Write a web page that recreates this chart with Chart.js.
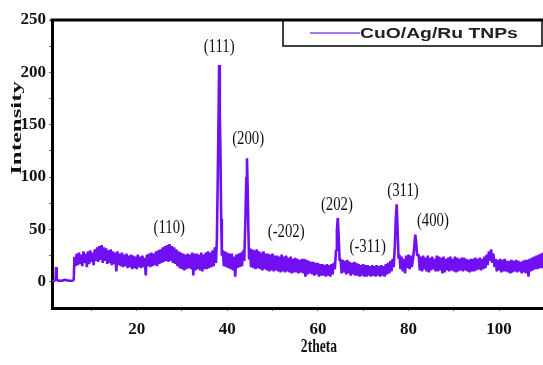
<!DOCTYPE html>
<html>
<head>
<meta charset="utf-8">
<script src="https://cdn.jsdelivr.net/npm/chart.js@4.4.1/dist/chart.umd.min.js"></script>
<style>
html, body { margin: 0; padding: 0; background: #fff; }
#wrap { width: 543px; height: 365px; position: relative; }
</style>
</head>
<body>
<div id="wrap"><canvas id="xrd"></canvas></div>
<script>
// XRD pattern (2theta in degrees, intensity in counts)
const twoTheta = [
    1.3, 1.8, 2.1, 2.2, 2.35, 2.8, 3.5, 4.2, 5.0, 5.8, 6.1,
    6.25, 6.5, 6.75, 7.0,
    7.25, 7.5, 7.75, 8.0, 8.25, 8.5, 8.75, 9.0,
    9.25, 9.5, 9.75, 10.0, 10.25, 10.5, 10.75, 11.0,
    11.25, 11.5, 11.75, 12.0, 12.25, 12.5, 12.75, 13.0,
    13.25, 13.5, 13.75, 14.0, 14.25, 14.5, 14.75, 15.0,
    15.25, 15.5, 15.75, 16.0, 16.25, 16.5, 16.75, 17.0,
    17.25, 17.5, 17.75, 18.0, 18.25, 18.5, 18.75, 19.0,
    19.25, 19.5, 19.75, 20.0, 20.25, 20.5, 20.75, 21.0,
    21.25, 21.5, 21.75, 22.0, 22.25, 22.5, 22.75, 23.0,
    23.25, 23.5, 23.75, 24.0, 24.25, 24.5, 24.75, 25.0,
    25.25, 25.5, 25.75, 26.0, 26.25, 26.5, 26.75, 27.0,
    27.25, 27.5, 27.75, 28.0, 28.25, 28.5, 28.75, 29.0,
    29.25, 29.5, 29.75, 30.0, 30.25, 30.5, 30.75, 31.0,
    31.25, 31.5, 31.75, 32.0, 32.25, 32.5, 32.75, 33.0,
    33.25, 33.5, 33.75, 34.0, 34.25, 34.5, 34.75, 35.0,
    35.25, 35.5, 35.75, 36.0, 36.25, 36.5, 36.75, 37.0,
    37.25, 37.5,
    37.7, 37.9, 38.05, 38.2, 38.35, 38.5, 38.65, 38.8,
    39.0, 39.25, 39.5, 39.75, 40.0, 40.25, 40.5, 40.75,
    41.0, 41.25, 41.5, 41.75, 42.0, 42.25, 42.5, 42.75,
    43.0, 43.25, 43.5, 43.75,
    44.0, 44.2, 44.35, 44.5, 44.65, 44.8,
    45.0, 45.25, 45.5, 45.75, 46.0, 46.25, 46.5, 46.75,
    47.0, 47.25, 47.5, 47.75, 48.0, 48.25, 48.5, 48.75,
    49.0, 49.25, 49.5, 49.75, 50.0, 50.25, 50.5, 50.75,
    51.0, 51.25, 51.5, 51.75, 52.0, 52.25, 52.5, 52.75,
    53.0, 53.25, 53.5, 53.75, 54.0, 54.25, 54.5, 54.75,
    55.0, 55.25, 55.5, 55.75, 56.0, 56.25, 56.5, 56.75,
    57.0, 57.25, 57.5, 57.75, 58.0, 58.25, 58.5, 58.75,
    59.0, 59.25, 59.5, 59.75, 60.0, 60.25, 60.5, 60.75,
    61.0, 61.25, 61.5, 61.75, 62.0, 62.25, 62.5, 62.75,
    63.0, 63.25, 63.5, 63.75,
    64.0, 64.2, 64.4, 64.6, 64.8,
    65.0, 65.25, 65.5, 65.75, 66.0, 66.25, 66.5, 66.75,
    67.0, 67.25, 67.5, 67.75, 68.0, 68.25, 68.5, 68.75,
    69.0, 69.25, 69.5, 69.75, 70.0, 70.25, 70.5, 70.75,
    71.0, 71.25, 71.5, 71.75, 72.0, 72.25, 72.5, 72.75,
    73.0, 73.25, 73.5, 73.75, 74.0, 74.25, 74.5, 74.75,
    75.0, 75.25, 75.5, 75.75, 76.0, 76.25, 76.5, 76.75,
    77.0, 77.2, 77.4, 77.6, 77.8,
    78.0, 78.25, 78.5, 78.75, 79.0, 79.25, 79.5, 79.75,
    80.0, 80.25, 80.5, 80.75,
    81.0, 81.25, 81.5, 81.7, 81.9,
    82.25, 82.5, 82.75, 83.0, 83.25, 83.5, 83.75, 84.0,
    84.25, 84.5, 84.75, 85.0, 85.25, 85.5, 85.75, 86.0,
    86.25, 86.5, 86.75, 87.0, 87.25, 87.5, 87.75, 88.0,
    88.25, 88.5, 88.75, 89.0, 89.25, 89.5, 89.75, 90.0,
    90.25, 90.5, 90.75, 91.0, 91.25, 91.5, 91.75, 92.0,
    92.25, 92.5, 92.75, 93.0, 93.25, 93.5, 93.75, 94.0,
    94.25, 94.5, 94.75, 95.0, 95.25, 95.5, 95.75, 96.0,
    96.25, 96.5, 96.75, 97.0, 97.25, 97.5, 97.75, 98.0,
    98.25, 98.5, 98.75, 99.0, 99.25, 99.5, 99.75, 100.0,
    100.25, 100.5, 100.75, 101.0, 101.25, 101.5, 101.75, 102.0,
    102.25, 102.5, 102.75, 103.0, 103.25, 103.5, 103.75, 104.0,
    104.25, 104.5, 104.75, 105.0, 105.25, 105.5, 105.75, 106.0,
    106.25, 106.5, 106.75, 107.0, 107.25, 107.5, 107.75, 108.0,
    108.25, 108.5, 108.75, 109.0, 109.25, 109.5, 109.75
];
const intensity = [
    1, 1, 2, 14, 2, 1, 1, 2, 1, 1, 2,
    24, 15, 27, 16,
    28, 17, 26, 15, 29, 18, 27, 14,
    29, 17, 30, 19, 28, 16, 31, 20,
    33, 19, 34, 21, 35, 18, 33, 20,
    32, 17, 30, 18, 31, 16, 29, 17,
    28, 10, 29, 16, 27, 15, 28, 14,
    26, 15, 27, 13, 25, 14, 26, 12,
    25, 13, 24, 12, 26, 14, 24, 13,
    25, 14, 23, 6, 26, 15, 27, 14,
    28, 15, 27, 16, 29, 15, 30, 17,
    31, 18, 33, 19, 34, 20, 35, 19,
    36, 20, 34, 18, 33, 17, 31, 15,
    29, 13, 28, 12, 27, 11, 26, 12,
    27, 13, 26, 12, 28, 6, 27, 11,
    27, 12, 26, 11, 28, 10, 26, 12,
    28, 12, 29, 13, 28, 14, 30, 15,
    33, 18,
    40, 100, 150, 207, 160, 120, 60, 25,
    30, 15, 29, 14, 28, 13, 27, 12,
    27, 11, 24, 5, 26, 13, 27, 14,
    28, 15, 30, 20,
    60, 100, 118, 90, 50, 22,
    32, 14, 31, 13, 30, 12, 31, 13,
    29, 12, 28, 11, 29, 12, 27, 11,
    27, 10, 26, 11, 27, 10, 25, 11,
    25, 10, 24, 9, 26, 10, 24, 9,
    25, 10, 23, 9, 24, 8, 22, 9,
    23, 9, 22, 8, 21, 9, 22, 8,
    22, 5, 21, 7, 20, 8, 19, 7,
    19, 6, 18, 7, 18, 5, 17, 6,
    17, 6, 16, 5, 17, 6, 16, 5,
    17, 7, 18, 12,
    30, 50, 61, 42, 20,
    22, 8, 21, 9, 20, 7, 21, 8,
    19, 6, 18, 7, 19, 6, 18, 6,
    17, 5, 16, 6, 17, 5, 16, 5,
    16, 6, 15, 5, 16, 6, 15, 5,
    16, 6, 15, 5, 16, 6, 15, 5,
    17, 7, 18, 8, 20, 10, 22, 14,
    35, 60, 74, 50, 22,
    26, 12, 24, 10, 22, 8, 25, 13,
    26, 12, 25, 14,
    22, 32, 45, 38, 25,
    26, 11, 24, 10, 25, 12, 23, 10,
    25, 9, 23, 11, 24, 12, 22, 10,
    25, 10, 24, 11, 23, 8, 24, 9,
    22, 11, 23, 10, 24, 11, 22, 10,
    24, 9, 23, 10, 22, 11, 23, 10,
    23, 11, 22, 10, 21, 9, 22, 10,
    22, 10, 23, 11, 22, 12, 23, 11,
    22, 12, 24, 13, 26, 16, 29, 20,
    31, 18, 27, 14, 22, 10, 21, 11,
    22, 9, 21, 10, 22, 10, 20, 9,
    20, 8, 21, 9, 20, 10, 21, 9,
    20, 10, 19, 8, 20, 9, 21, 8,
    21, 5, 22, 10, 23, 11, 24, 12,
    25, 12, 26, 13, 27, 13, 28
];
const seriesName = "CuO/Ag/Ru TNPs";
const xTickValues = [10, 20, 30, 40, 50, 60, 70, 80, 90, 100];
const yTickValues = [0, 25, 50, 75, 100, 125, 150, 175, 200, 225, 250];

// Miller index annotations: label, 2theta, intensity level of the label
const peakNames = ["(110)", "(111)", "(200)", "(-202)", "(202)", "(-311)", "(311)", "(400)"];
const peakTheta = [27.2, 38.2, 44.6, 53.0, 64.2, 71.0, 78.8, 85.4];
const peakLevel = [51, 224, 136, 47, 73, 33, 86, 58];

const lineColor = "#7010f2";

function condensedText(ctx, text, x, y, sx, sy) {
    ctx.save();
    ctx.translate(x, y);
    ctx.scale(sx, sy);
    ctx.fillText(text, 0, 0);
    ctx.restore();
}

const decorations = {
    id: "decorations",
    afterDatasetsDraw(chart) {
        const { ctx, chartArea: area, scales: { x, y } } = chart;
        ctx.save();

        // top frame line
        ctx.strokeStyle = "#000";
        ctx.lineWidth = 3;
        ctx.beginPath();
        ctx.moveTo(area.left - 1.5, area.top);
        ctx.lineTo(area.right, area.top);
        ctx.stroke();

        // peak labels
        ctx.fillStyle = "#111";
        ctx.font = '18px "Liberation Serif"';
        ctx.textAlign = "center";
        ctx.textBaseline = "middle";
        peakNames.forEach((name, i) => {
            condensedText(ctx, name,
                x.getPixelForValue(peakTheta[i]),
                y.getPixelForValue(peakLevel[i]), 0.82, 1);
        });

        // legend box
        const boxLeft = 283, boxTop = area.top, boxRight = 542, boxBottom = 46;
        ctx.lineWidth = 1.5;
        ctx.strokeRect(boxLeft, boxTop, boxRight - boxLeft, boxBottom - boxTop);
        ctx.strokeStyle = "#a878e8";
        ctx.lineWidth = 2;
        ctx.beginPath();
        ctx.moveTo(310, 33);
        ctx.lineTo(360, 33);
        ctx.stroke();
        ctx.fillStyle = "#222";
        ctx.font = 'bold 14px "Liberation Sans"';
        ctx.textAlign = "left";
        condensedText(ctx, seriesName, 360, 34, 1.38, 1);

        // axis titles
        ctx.fillStyle = "#111";
        ctx.font = 'bold 16px "Liberation Serif"';
        ctx.textAlign = "center";
        condensedText(ctx, "2theta", 319, 347, 0.85, 1.15);

        ctx.save();
        ctx.translate(17, 128);
        ctx.rotate(-Math.PI / 2);
        ctx.font = 'bold 15px "Liberation Serif"';
        condensedText(ctx, "Intensity", 0, 0, 1.65, 1);
        ctx.restore();

        ctx.restore();
    }
};

new Chart(document.getElementById("xrd").getContext("2d"), {
    type: "scatter",
    data: {
        datasets: [{
            label: seriesName,
            data: twoTheta.map((t, i) => ({ x: t, y: intensity[i] })),
            showLine: true,
            borderColor: lineColor,
            borderWidth: 2.6,
            borderJoinStyle: "bevel",
            pointRadius: 0,
            tension: 0
        }]
    },
    options: {
        responsive: true,
        maintainAspectRatio: false,
        animation: false,
        layout: { padding: { top: 20, right: 0, left: 0, bottom: 0 } },
        plugins: {
            legend: { display: false },
            tooltip: { enabled: false }
        },
        scales: {
            x: {
                type: "linear",
                min: 1.3,
                max: 109.7,
                afterBuildTicks: axis => {
                    axis.ticks = xTickValues.map(v => ({ value: v }));
                },
                afterFit: axis => { axis.height = 57; },
                ticks: {
                    padding: 8,
                    color: "#111",
                    font: { family: "Liberation Serif", size: 17, weight: "bold" },
                    callback: v => (v % 20 === 0 ? v : "")
                },
                grid: { drawOnChartArea: false, tickLength: 3, color: "#666" },
                border: { color: "#000", width: 3 }
            },
            y: {
                min: -25,
                max: 250,
                afterBuildTicks: axis => {
                    axis.ticks = yTickValues.map(v => ({ value: v }));
                },
                afterFit: axis => { axis.width = 52; },
                ticks: {
                    padding: 3,
                    color: "#111",
                    font: { family: "Liberation Serif", size: 17, weight: "bold" },
                    callback: v => (v % 50 === 0 ? v : "")
                },
                grid: { drawOnChartArea: false, tickLength: 3, color: "#666" },
                border: { color: "#000", width: 3 }
            }
        }
    },
    plugins: [decorations]
});
</script>
</body>
</html>
